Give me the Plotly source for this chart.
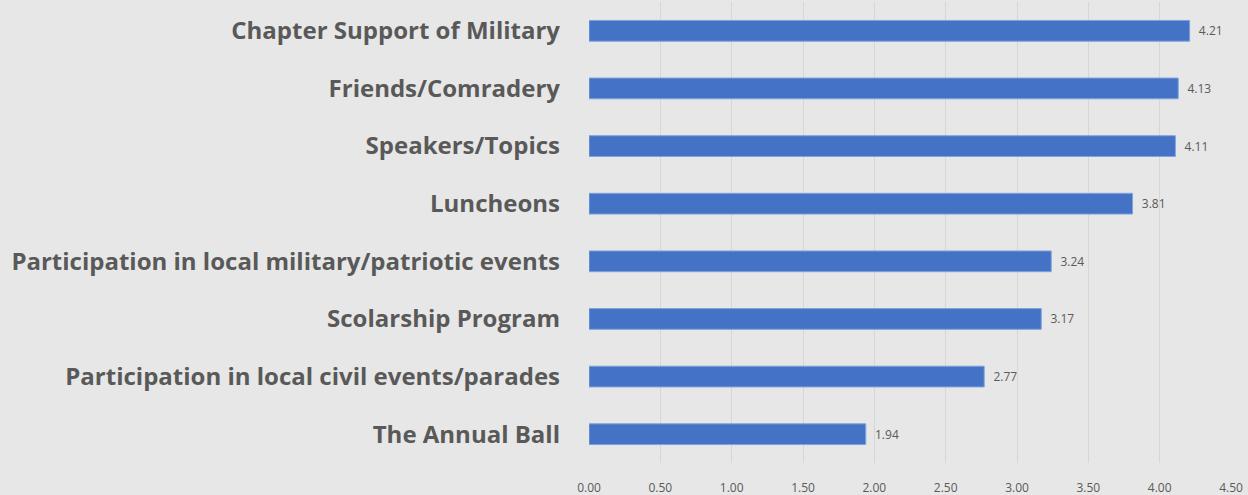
import plotly.graph_objects as go

# 类别与得分(从上到下)
categories = ['Chapter Support of Military', 'Friends/Comradery', 'Speakers/Topics',
              'Luncheons', 'Participation in local military/patriotic events',
              'Scolarship Program', 'Participation in local civil events/parades',
              'The Annual Ball']
scores = [4.21, 4.13, 4.11, 3.81, 3.24, 3.17, 2.77, 1.94]
tick_vals = [0, 0.5, 1, 1.5, 2, 2.5, 3, 3.5, 4, 4.5]

fig = go.Figure(go.Bar(
    x=scores,
    y=categories,
    orientation='h',
    marker=dict(color='#4472c4', line=dict(color='#7fa3e0', width=1)),
    text=[f'  {v:.2f}' for v in scores],
    textposition='outside',
    textfont=dict(family='Open Sans', size=12, color='#595959'),
    cliponaxis=False,
))

fig.update_layout(
    width=1248, height=495,
    margin=dict(l=589, r=17, t=2, b=32),
    paper_bgcolor='#e7e7e7',
    plot_bgcolor='#e7e7e7',
    bargap=0.64,
    showlegend=False,
    font=dict(family='Open Sans', color='#595959'),
)
fig.update_xaxes(
    range=[0, 4.5],
    tickvals=tick_vals,
    tickformat='.2f',
    tickfont=dict(size=12, color='#595959'),
    showgrid=True, gridcolor='#d6d6d6', gridwidth=1,
    zeroline=False, showline=False,
    ticklabelstandoff=16,
    automargin=False,
)
fig.update_yaxes(
    categoryorder='array',
    categoryarray=categories[::-1],
    tickfont=dict(size=24, color='#595959', weight='bold'),
    showgrid=False,
    ticklabelstandoff=28,
    automargin=False,
)

# 去掉页面默认的 body 边距
fig.write_html('out.html', config={'displayModeBar': False},
               post_script="document.body.style.margin='0px';")
